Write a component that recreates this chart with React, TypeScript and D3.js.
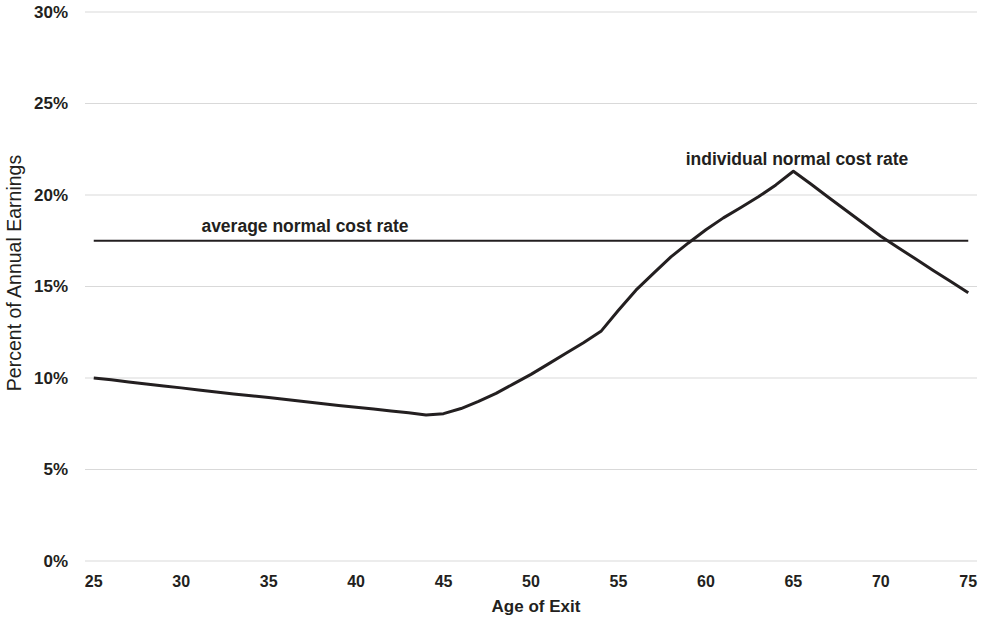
import { useEffect, useRef } from "react";
import * as d3 from "d3";

// ages 25..75, one point per year
const ages = [
  25, 26, 27, 28, 29, 30, 31, 32, 33, 34, 35, 36, 37, 38, 39, 40, 41, 42, 43, 44,
  45, 46, 47, 48, 49, 50, 51, 52, 53, 54, 55, 56, 57, 58, 59, 60, 61, 62, 63, 64,
  65, 66, 67, 68, 69, 70, 71, 72, 73, 74, 75,
];

// individual normal cost rate, % of annual earnings
const individualRate = [
  10.0, 9.9, 9.78, 9.67, 9.56, 9.46, 9.35, 9.24, 9.13, 9.03, 8.93, 8.82, 8.72, 8.61, 8.5, 8.4, 8.3, 8.2, 8.1, 7.98,
  8.05, 8.33, 8.72, 9.16, 9.68, 10.2, 10.77, 11.35, 11.93, 12.55, 13.7, 14.8, 15.72, 16.62, 17.38, 18.1, 18.75, 19.32, 19.9, 20.55,
  21.3, 20.6, 19.88, 19.17, 18.46, 17.75, 17.12, 16.5, 15.88, 15.27, 14.66,
];

const averageRate = 17.5;

const yTicks = [0, 5, 10, 15, 20, 25, 30];
const xTickLabels = [25, 30, 35, 40, 45, 50, 55, 60, 65, 70, 75];

const width = 983;
const height = 621;
const font = "'Liberation Sans', Arial, sans-serif";
const ink = "#231f20";

export default function App() {
  const svgRef = useRef<SVGSVGElement | null>(null);

  useEffect(() => {
    if (!svgRef.current) return;
    const svg = d3.select(svgRef.current);
    svg.selectAll("*").remove();

    const left = 85;
    const right = 977;
    const top = 12;
    const bottom = 561;

    const x = d3.scalePoint<number>().domain(ages).range([left, right]).padding(0.5);
    const y = d3.scaleLinear().domain([0, 30]).range([bottom, top]);

    // gridlines
    svg.append("g")
      .selectAll("line")
      .data(yTicks)
      .join("line")
      .attr("x1", left)
      .attr("x2", right)
      .attr("y1", d => y(d))
      .attr("y2", d => y(d))
      .attr("stroke", "#d9d9d9")
      .attr("stroke-width", 1);

    // y tick labels
    svg.append("g")
      .selectAll("text")
      .data(yTicks)
      .join("text")
      .attr("x", 68)
      .attr("y", d => y(d))
      .attr("dy", "0.35em")
      .attr("text-anchor", "end")
      .attr("font-family", font)
      .attr("font-weight", "bold")
      .attr("font-size", 17)
      .attr("fill", ink)
      .text(d => `${d}%`);

    // x tick labels
    svg.append("g")
      .selectAll("text")
      .data(xTickLabels)
      .join("text")
      .attr("x", d => x(d) as number)
      .attr("y", 587)
      .attr("text-anchor", "middle")
      .attr("font-family", font)
      .attr("font-weight", "bold")
      .attr("font-size", 16)
      .attr("fill", ink)
      .text(d => d);

    // axis titles
    svg.append("text")
      .attr("x", 536)
      .attr("y", 612)
      .attr("text-anchor", "middle")
      .attr("font-family", font)
      .attr("font-weight", "bold")
      .attr("font-size", 17)
      .attr("fill", ink)
      .text("Age of Exit");

    svg.append("text")
      .attr("transform", `translate(21, 273) rotate(-90)`)
      .attr("text-anchor", "middle")
      .attr("font-family", font)
      .attr("font-size", 19.5)
      .attr("fill", ink)
      .text("Percent of Annual Earnings");

    // average normal cost rate
    svg.append("line")
      .attr("x1", x(ages[0]) as number)
      .attr("x2", x(ages[ages.length - 1]) as number)
      .attr("y1", y(averageRate))
      .attr("y2", y(averageRate))
      .attr("stroke", ink)
      .attr("stroke-width", 2);

    svg.append("text")
      .attr("x", 305)
      .attr("y", y(averageRate) - 9)
      .attr("text-anchor", "middle")
      .attr("font-family", font)
      .attr("font-weight", "bold")
      .attr("font-size", 17.5)
      .attr("fill", ink)
      .text("average normal cost rate");

    // individual normal cost rate
    const line = d3.line<number>()
      .x((_, i) => x(ages[i]) as number)
      .y(d => y(d));

    svg.append("path")
      .datum(individualRate)
      .attr("fill", "none")
      .attr("stroke", ink)
      .attr("stroke-width", 3)
      .attr("stroke-linejoin", "round")
      .attr("d", line);

    svg.append("text")
      .attr("x", 797)
      .attr("y", 165)
      .attr("text-anchor", "middle")
      .attr("font-family", font)
      .attr("font-weight", "bold")
      .attr("font-size", 17.5)
      .attr("fill", ink)
      .text("individual normal cost rate");
  }, []);

  return (
    <svg
      ref={svgRef}
      width={width}
      height={height}
      style={{ position: "absolute", left: 0, top: 0, background: "#fff" }}
    />
  );
}
